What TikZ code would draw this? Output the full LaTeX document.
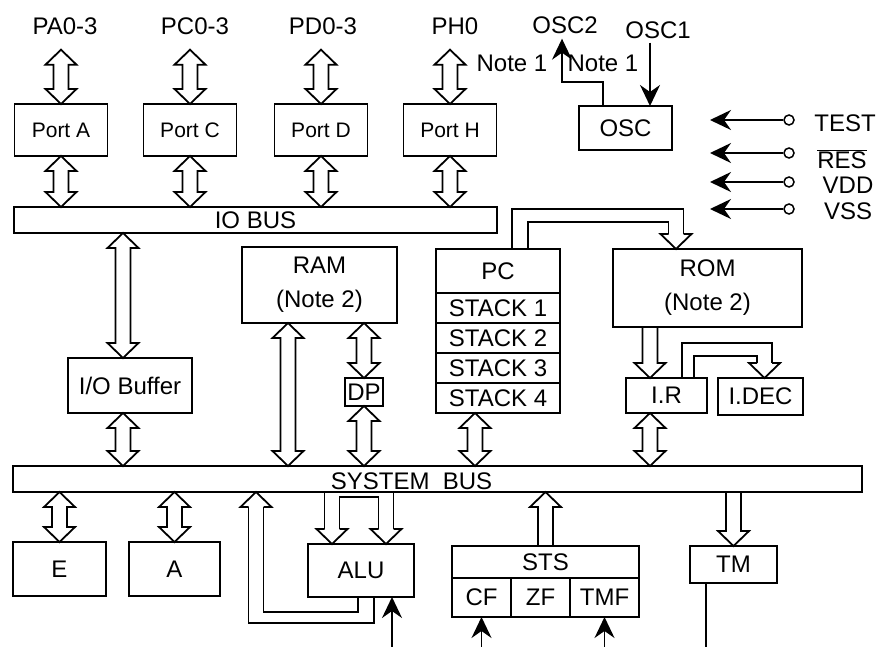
\documentclass[tikz,border=0pt]{standalone}
\usepackage{fontspec}
\setmainfont{Liberation Sans}
\usepackage{tikz}
\usetikzlibrary{arrows.meta,positioning,calc}

% hollow bus arrows, x is taken from the first point
\newcommand{\dbus}[2]{%
  \coordinate (dbt) at #1;
  \coordinate (dbb0) at #2;
  \coordinate (dbb) at (dbb0 -| dbt);
  \draw[wire] (dbt) -- ++(15.5,15) -- ++(-8,0) -- ($(dbb)+(7.5,-15)$)
    -- ++(8,0) -- (dbb) -- ++(-15.5,-15) -- ++(8,0)
    -- ($(dbt)+(-7.5,15)$) -- ++(-8,0) -- cycle;}
\newcommand{\dnbus}[2]{%
  \coordinate (sba) at #1;
  \coordinate (sbb0) at #2;
  \coordinate (sbb) at (sbb0 -| sba);
  \draw[wire] ($(sba)+(-7.5,0)$) -- ($(sbb)+(-7.5,-15)$) -- ++(-8,0) -- (sbb)
    -- ++(15.5,-15) -- ++(-8,0) -- ($(sba)+(7.5,0)$);}
\newcommand{\upbus}[2]{%
  \coordinate (sba) at #1;
  \coordinate (sbb0) at #2;
  \coordinate (sbb) at (sbb0 -| sba);
  \draw[wire] ($(sba)+(-7.5,0)$) -- ($(sbb)+(-7.5,15)$) -- ++(-8,0) -- (sbb)
    -- ++(15.5,15) -- ++(-8,0) -- ($(sba)+(7.5,0)$);}
% open heads for the bent buses
\newcommand{\hdown}[1]{\draw[wire] ($#1+(-7.5,-15)$) -- ++(-8,0) -- #1 -- ++(15.5,-15) -- ++(-8,0);}
\newcommand{\hup}[1]{\draw[wire] ($#1+(-7.5,15)$) -- ++(-8,0) -- #1 -- ++(15.5,15) -- ++(-8,0);}

\begin{document}
\begin{tikzpicture}[x=1pt, y=-1pt,
  font=\fontsize{24}{34}\selectfont,
  blk/.style={draw, line width=1.8pt, inner sep=0pt, outer sep=0pt, align=center},
  port/.style={blk, minimum width=93pt, minimum height=52pt,
               font=\fontsize{21}{24}\selectfont},
  busbar/.style={blk, minimum height=26pt},
  stk/.style={blk, minimum width=124pt, minimum height=30pt},
  lbl/.style={inner sep=0pt},
  pinc/.style={circle, draw, line width=1.5pt, fill=white, minimum size=10pt, inner sep=0pt},
  wire/.style={line width=1.8pt},
  sig/.style={line width=1.8pt, -{Stealth[length=21pt, width=20pt, inset=7pt]}}
]
  \useasboundingbox (0,0) rectangle (877,647);

  % ports
  \node[lbl] (ppa) at (65,26) {PA0-3};
  \node[lbl] (ppc) at (195,26) {PC0-3};
  \node[lbl] (ppd) at (323,26) {PD0-3};
  \node[lbl] (pph) at (455,26) {PH0};
  \node[port] (porta) at (61,130) {Port A};
  \node[port] (portc) at (190,130) {Port C};
  \node[port] (portd) at (321,130) {Port D};
  \node[port] (porth) at (450,130) {Port H};
  \node[busbar, minimum width=483pt] (iobus) at (255.5,220) {IO BUS};
  \node[lbl] (n1a) at (512,63) {Note 1};

  \dbus{($(ppa.south -| porta.north)+(0,15)$)}{(porta.north)}
  \dbus{($(ppc.south -| portc.north)+(0,15)$)}{(portc.north)}
  \dbus{($(ppd.south -| portd.north)+(0,15)$)}{(portd.north)}
  \dbus{($(pph.south -| porth.north)+(0,15)$)}{(porth.north)}
  \dbus{(porta.south)}{(iobus.north)}
  \dbus{(portc.south)}{(iobus.north)}
  \dbus{(portd.south)}{(iobus.north)}
  \dbus{(porth.south)}{(iobus.north)}

  % oscillator
  \node[blk, minimum width=93pt, minimum height=44pt] (osc) at (625.5,128) {OSC};
  \node[lbl] (osc2) at (565,25) {OSC2};
  \node[lbl] (osc1) at (658,30) {OSC1};
  \node[lbl] (n1b) at (603,63) {Note 1};
  \coordinate (oscin) at ($(osc.north)+(24.5,0)$);
  \draw[sig] ($(osc1.south -| oscin)+(0,4)$) -- (oscin);
  \draw[sig] ($(osc.north)+(-22.5,0)$) -- ++(0,-24) -| ($(osc2.south)+(-3,5)$);

  % control pins
  \foreach \pn/\pt/\py/\lx/\ly in {test/TEST/120/845/123, res/{$\overline{\hbox{RES}}$}/153/842/159,
                                   vdd/VDD/182/848/185, vss/VSS/209/848/211} {
    \node[pinc] (c\pn) at (789,\py) {};
    \coordinate (t\pn) at (710,\py);
    \node[lbl] (l\pn) at (\lx,\ly) {\pt};
    \draw[sig] (c\pn) -- (t\pn);
  }

  % memory and control
  \node[blk, minimum width=124pt, minimum height=55pt] (iobuf) at (130,385.5) {I/O Buffer};
  \node[blk, minimum width=155pt, minimum height=76pt] (ram) at (319.5,285) {RAM\\(Note 2)};
  \node[blk, minimum width=38pt, minimum height=28pt] (dp) at (364,392) {DP};
  \node[blk, minimum width=124pt, minimum height=44pt] (pc) at (498,271) {PC};
  \node[stk, below=0pt of pc] (stk1) {STACK 1};
  \node[stk, below=0pt of stk1] (stk2) {STACK 2};
  \node[stk, below=0pt of stk2] (stk3) {STACK 3};
  \node[stk, below=0pt of stk3] (stk4) {STACK 4};
  \node[blk, minimum width=189pt, minimum height=78pt] (rom) at (707.5,288) {ROM\\(Note 2)};
  \node[blk, minimum width=81pt, minimum height=35pt] (ir) at (666.5,395.5) {I.R};
  \node[blk, minimum width=85pt, minimum height=37pt] (idec) at (760.5,396.5) {I.DEC};
  \node[busbar, minimum width=849pt,
        label={[xshift=-26pt, yshift=-2pt]center:{SYSTEM\ \ BUS}}] (sysbus) at (437.5,479) {};

  \coordinate (iox) at ($(iobuf.north)+(-7,0)$);
  \coordinate (irx) at ($(ir.north)+(-16.5,0)$);
  \dbus{(iobus.south -| iox)}{(iobuf.north)}
  \dbus{(iobuf.south -| iox)}{(sysbus.north)}
  \dbus{($(ram.south west)+(46,0)$)}{(sysbus.north)}
  \dbus{(ram.south -| dp.north)}{(dp.north)}
  \dbus{(dp.south)}{(sysbus.north)}
  \dbus{($(stk4.south)+(-23,0)$)}{(sysbus.north)}
  \dnbus{(rom.south -| irx)}{(ir.north)}
  \dbus{(ir.south -| irx)}{(sysbus.north)}

  % PC -> ROM
  \coordinate (romin) at ($(rom.north west)+(63,0)$);
  \draw[wire] ($(pc.north west)+(76,0)$) |- ($(romin)+(7.5,-40)$) -- ($(romin)+(7.5,-15)$);
  \draw[wire] ($(pc.north west)+(92,0)$) |- ($(romin)+(-7.5,-27)$) -- ($(romin)+(-7.5,-15)$);
  \hdown{(romin)}
  % I.R -> I.DEC
  \coordinate (decin) at ($(idec.north)+(4,0)$);
  \draw[wire] ($(ir.north)+(15.5,0)$) |- ($(decin)+(7.5,-35)$) -- ($(decin)+(7.5,-15)$);
  \draw[wire] ($(ir.north)+(27.5,0)$) |- ($(decin)+(-7.5,-22)$) -- ($(decin)+(-7.5,-15)$);
  \hdown{(decin)}

  % execution unit
  \node[blk, minimum width=93pt, minimum height=54pt] (ebox) at (59.5,569) {E};
  \node[blk, minimum width=91pt, minimum height=54pt] (abox) at (174.5,569) {A};
  \node[blk, minimum width=106pt, minimum height=53pt] (alu) at (361,570.5) {ALU};
  \node[blk, minimum width=187pt, minimum height=32pt] (sts) at (545.5,562) {STS};
  \node[blk, minimum width=59pt, minimum height=39pt, below right=0pt of sts.south west] (cf) {CF};
  \node[blk, minimum width=59pt, minimum height=39pt, right=0pt of cf] (zf) {ZF};
  \node[blk, minimum width=69pt, minimum height=39pt, right=0pt of zf] (tmf) {TMF};
  \node[blk, minimum width=87pt, minimum height=37pt] (tm) at (733.5,564.5) {TM};

  \dbus{(sysbus.south -| ebox.north)}{(ebox.north)}
  \dbus{(sysbus.south -| abox.north)}{(abox.north)}
  \upbus{(sts.north)}{(sysbus.south)}
  \dnbus{(sysbus.south -| tm.north)}{(tm.north)}

  % ALU operands and result
  \coordinate (aluin1) at ($(alu.north west)+(24,0)$);
  \coordinate (aluin2) at ($(alu.north west)+(78,0)$);
  \draw[wire] ($(sysbus.south -| aluin1)+(-7.5,0)$) -- ($(aluin1)+(-7.5,-15)$);
  \draw[wire] ($(aluin1)+(7.5,-15)$) |- ($(sysbus.south -| aluin2)+(-7.5,5)$) -- ($(aluin2)+(-7.5,-15)$);
  \draw[wire] ($(sysbus.south -| aluin2)+(7.5,0)$) -- ($(aluin2)+(7.5,-15)$);
  \hdown{(aluin1)}
  \hdown{(aluin2)}
  \coordinate (fbin) at ($(sysbus.south west)+(243,0)$);
  \draw[wire] ($(alu.south)+(-3,0)$) |- ($(fbin)+(7.5,120)$) -- ($(fbin)+(7.5,15)$);
  \draw[wire] ($(alu.south)+(13,0)$) |- ($(fbin)+(-7.5,131)$) -- ($(fbin)+(-7.5,15)$);
  \hup{(fbin)}

  % flag and timer lines
  \coordinate (aluctl) at ($(alu.south east)+(-22,50)$);
  \coordinate (cfin) at ($(cf.south)+(0,30)$);
  \coordinate (tmfin) at ($(tmf.south)+(0,30)$);
  \coordinate (tmout) at ($(tm.south)+(-27.5,64)$);
  \draw[sig] (aluctl) -- (aluctl |- alu.south);
  \draw[sig] (cfin) -- (cf.south);
  \draw[sig] (tmfin) -- (tmf.south);
  \draw[wire] (tm.south -| tmout) -- (tmout);
\end{tikzpicture}
\end{document}
